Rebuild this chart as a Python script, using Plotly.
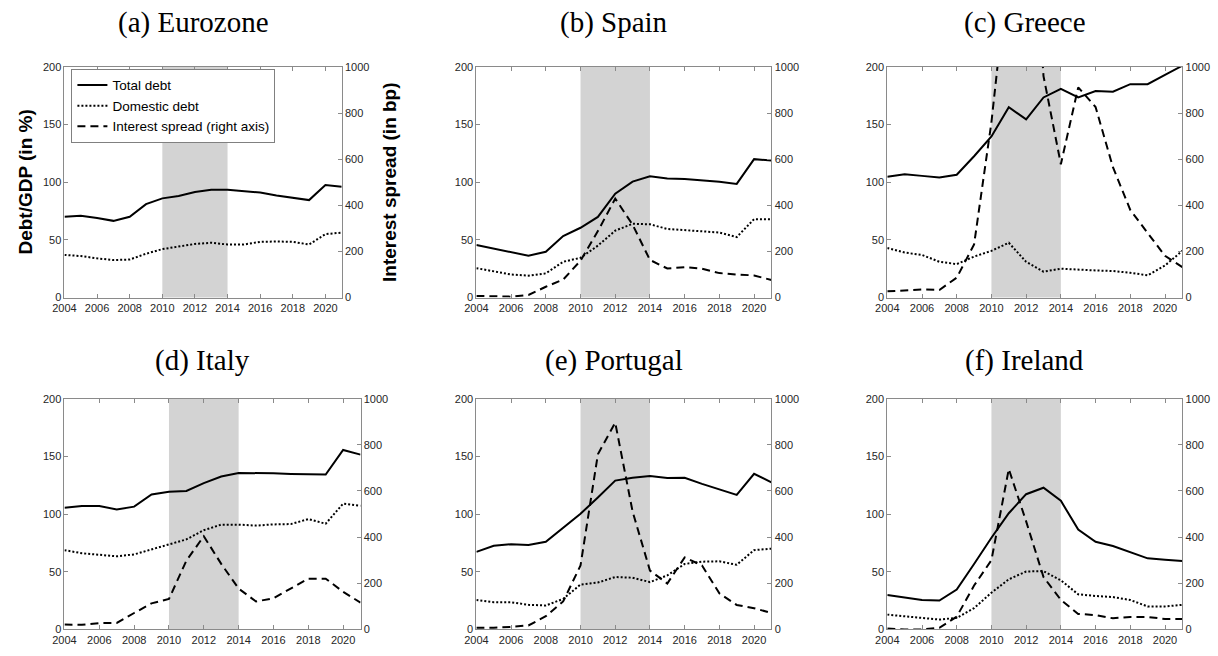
import plotly.graph_objects as go

years = list(range(2004, 2022))

titles = ["(a) Eurozone", "(b) Spain", "(c) Greece", "(d) Italy", "(e) Portugal", "(f) Ireland"]

total_ez = [70, 71, 69, 66.5, 70, 81, 86, 88, 91.5, 93.5, 93.5, 92, 91, 88.5, 86.5, 84.5, 97.5, 96]
dom_ez = [37, 36, 34, 32.5, 33, 38, 42, 44, 46.5, 47.5, 46, 46, 48.3, 48.6, 48.3, 46, 55, 56.3]
spread_ez = []  # no spread series for the Eurozone aggregate

total_es = [45.5, 42.3, 38.9, 36.3, 39.7, 53.3, 60.5, 69.9, 90.0, 100.5, 105.1, 103.3, 102.7, 101.8, 100.4, 98.5, 120.0, 118.8]
dom_es = [25.5, 23, 20, 19, 21, 31, 34.5, 45, 58, 64, 63.5, 59.5, 58.4, 57.5, 56.4, 52.4, 68, 68]
spread_es = [7, 4, 4, 11, 47, 78, 160, 288, 429, 316, 163, 126, 132, 125, 106, 100, 96, 76]

total_gr = [104.8, 106.8, 105.5, 104, 106.5, 122.5, 139.7, 165, 154.5, 173.5, 181, 173.5, 179, 178.5, 185, 185, 193, 201]
dom_gr = [43, 39, 37, 31, 29, 35.5, 40.5, 47.5, 31, 22.5, 25, 24, 23.5, 23, 21.5, 19.3, 27.8, 40.5]
spread_gr = [27, 30, 35, 33, 86, 230, 760, 1450, 2100, 960, 578, 911, 826, 565, 380, 280, 181, 132]

total_it = [105.5, 107, 107, 104, 106.4, 117, 119.4, 120, 126.8, 132.5, 135.6, 135.6, 135.3, 134.8, 134.8, 134.2, 155.5, 151.5]
dom_it = [68.7, 66, 64.7, 63.3, 65, 69.5, 74, 78, 86, 90.8, 90.8, 90, 91, 91.3, 95.6, 91.6, 109, 107.2]
spread_it = [21, 20, 27, 28, 71, 113, 132, 298, 404, 284, 177, 121, 135, 177, 220, 220, 163, 116]

total_pt = [67.2, 72.5, 73.8, 73.2, 76, 88, 100.2, 114.4, 129.0, 131.4, 132.9, 131.2, 131.5, 126.1, 121.5, 116.6, 134.9, 127.5]
dom_pt = [25.5, 23.5, 23.5, 21.3, 20.7, 26.4, 38.9, 40.6, 45.4, 44.8, 41, 46.8, 56.7, 58.7, 59, 56, 68.7, 70]
spread_pt = [7, 7, 11, 17, 57, 121, 277, 759, 896, 511, 255, 199, 312, 277, 156, 106, 92, 71]

total_ie = [29.8, 27.8, 25.5, 25, 34.6, 56.7, 79.4, 100.7, 117.2, 122.8, 111.5, 86.5, 76, 72.3, 66.7, 61.6, 60.4, 59.3]
dom_ie = [12.8, 11.3, 10, 8.5, 10, 18.4, 31.8, 43.4, 50.2, 50.5, 42.5, 30.4, 29, 28, 25.5, 19.9, 19.9, 21.3]
spread_ie = [4, 0, 0, 7, 55, 190, 300, 695, 468, 227, 128, 67, 62, 48, 54, 54, 45, 45]

totals = [total_ez, total_es, total_gr, total_it, total_pt, total_ie]
doms = [dom_ez, dom_es, dom_gr, dom_it, dom_pt, dom_ie]
spreads = [spread_ez, spread_es, spread_gr, spread_it, spread_pt, spread_ie]

crisis_start, crisis_end = 2010, 2014
left_ticks = [0, 50, 100, 150, 200]
right_ticks = [0, 200, 400, 600, 800, 1000]
x_ticks = list(range(2004, 2021, 2))

W, H = 1218, 656
# panel pixel boxes: (left, right, top, bottom)
boxes = [
    (53, 333, 62, 297), (469, 767, 62, 297), (884, 1182, 62, 297),
    (53, 352, 400, 635), (469, 767, 400, 635), (884, 1182, 400, 635),
]
title_dy = [45, 45, 45, 39, 39, 39]

fig = go.Figure()
axis_col = "#8a8a8a"
txt_col = "#262626"
tickfont = dict(family="Liberation Sans", size=11, color=txt_col)

annotations = []
shapes = []
for i in range(6):
    n = i + 1
    xa = "x" if n == 1 else f"x{n}"
    yl_id = 2 * i + 1
    yr_id = 2 * i + 2
    yl = "y" if yl_id == 1 else f"y{yl_id}"
    yr = f"y{yr_id}"
    l, r, t, b = boxes[i]
    xdom = [l / W, r / W]
    ydom = [1 - b / H, 1 - t / H]

    fig.add_trace(go.Scatter(x=years, y=totals[i], mode="lines", xaxis=xa, yaxis=yl,
                             line=dict(color="black", width=2), name="Total debt",
                             showlegend=(i == 0), legendrank=1))
    fig.add_trace(go.Scatter(x=years, y=doms[i], mode="lines", xaxis=xa, yaxis=yl,
                             line=dict(color="black", width=2, dash="2px,2px"), name="Domestic debt",
                             showlegend=(i == 0), legendrank=2))
    sp = spreads[i]
    fig.add_trace(go.Scatter(x=years[:len(sp)], y=sp, mode="lines", xaxis=xa, yaxis=yr,
                             line=dict(color="black", width=2, dash="8px,5px"),
                             name="Interest spread (right axis)",
                             showlegend=(i == 1), legendrank=3))

    xkey = "xaxis" if n == 1 else f"xaxis{n}"
    ylkey = "yaxis" if yl_id == 1 else f"yaxis{yl_id}"
    yrkey = f"yaxis{yr_id}"
    fig.update_layout(**{
        xkey: dict(domain=xdom, anchor=yl, range=[2004, 2021], tickvals=x_ticks,
                   showline=True, linecolor=axis_col, linewidth=1, mirror="ticks",
                   ticks="inside", ticklen=4, tickcolor=axis_col, tickfont=tickfont,
                   showgrid=False, zeroline=False, fixedrange=True),
        ylkey: dict(domain=ydom, anchor=xa, range=[0, 200], tickvals=left_ticks,
                    showline=True, linecolor=axis_col, linewidth=1,
                    ticks="inside", ticklen=4, tickcolor=axis_col, tickfont=tickfont,
                    showgrid=False, zeroline=False, fixedrange=True),
        yrkey: dict(domain=ydom, anchor=xa, overlaying=yl, side="right", range=[0, 1000],
                    tickvals=right_ticks, showline=True, linecolor=axis_col, linewidth=1,
                    ticks="inside", ticklen=4, tickcolor=axis_col, tickfont=tickfont,
                    showgrid=False, zeroline=False, fixedrange=True),
    })
    shapes.append(dict(type="rect", xref=xa, yref=f"{yl} domain", x0=crisis_start, x1=crisis_end,
                       y0=0, y1=1, fillcolor="#d3d3d3", line=dict(width=0), layer="below"))
    annotations.append(dict(text=titles[i], xref="paper", yref="paper",
                            x=((l + r) / 2 - 10) / W, y=1 - (t - title_dy[i]) / H,
                            xanchor="center", yanchor="middle", showarrow=False,
                            font=dict(family="Liberation Serif", size=29, color="black")))

annotations.append(dict(text="<b>Debt/GDP (in %)</b>", xref="paper", yref="paper",
                        x=14 / W, y=1 - 179 / H, textangle=-90, showarrow=False,
                        xanchor="center", yanchor="middle",
                        font=dict(family="Liberation Sans", size=19, color="black")))
annotations.append(dict(text="<b>Interest spread (in bp)</b>", xref="paper", yref="paper",
                        x=381 / W, y=1 - 179 / H, textangle=-90, showarrow=False,
                        xanchor="center", yanchor="middle",
                        font=dict(family="Liberation Sans", size=19, color="black")))

fig.update_layout(
    width=W, height=H, margin=dict(l=0, r=0, t=0, b=0),
    paper_bgcolor="white", plot_bgcolor="white",
    shapes=shapes, annotations=annotations,
    showlegend=True,
    legend=dict(x=60 / W, y=1 - 64 / H, xanchor="left", yanchor="top",
                bordercolor="#808080", borderwidth=1, bgcolor="white",
                font=dict(family="Liberation Sans", size=13.5, color="black"),
                tracegroupgap=0, itemwidth=30, traceorder="normal"),
)

fig.write_html("out.html")
